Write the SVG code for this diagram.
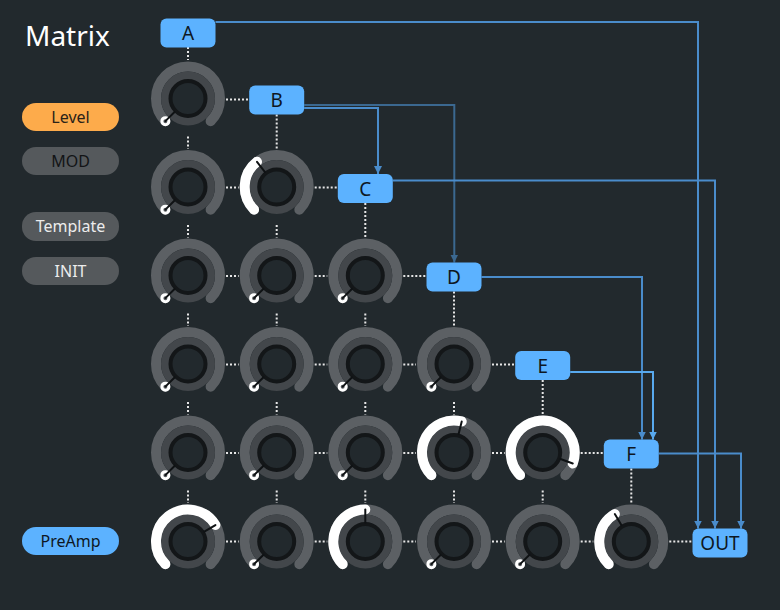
<svg xmlns="http://www.w3.org/2000/svg" xmlns:xlink="http://www.w3.org/1999/xlink" width="780" height="610" viewBox="0 0 780 610">
<style>
.bg{fill:#22292d}
.title{font-family:"Noto Sans","Open Sans","Liberation Sans",sans-serif;font-size:28px;fill:#ffffff}
.side{font-family:"Noto Sans","Open Sans","Liberation Sans",sans-serif;font-size:16px;text-anchor:middle}
.btn{fill:#5cb2ff}
.btxt{font-family:"Noto Sans","Open Sans","Liberation Sans",sans-serif;font-size:19px;text-anchor:middle;fill:#0e1722}
.dot{stroke:#e6e6e6;stroke-width:2;stroke-dasharray:2 2;fill:none}
.wire{fill:none;stroke-width:2}
.w1{stroke:#4a8ccb}
.w2{stroke:#3b6890}
.w3{stroke:#58a9ee}
.track{fill:none;stroke:#5c6064;stroke-width:10;stroke-linecap:round}
.val{fill:none;stroke:#ffffff;stroke-width:10;stroke-linecap:round}
.pdot{fill:none;stroke:#ffffff;stroke-width:3}
.ptr{stroke:#0f1214;stroke-width:2;stroke-linecap:round}
</style>
<defs>
<marker id="ah1" markerUnits="userSpaceOnUse" markerWidth="8" markerHeight="8" viewBox="0 0 8 8" refX="8" refY="4" orient="auto"><path d="M0,0 L8,4 L0,8 z" fill="#4a8ccb"/></marker>
<marker id="ah2" markerUnits="userSpaceOnUse" markerWidth="8" markerHeight="8" viewBox="0 0 8 8" refX="8" refY="4" orient="auto"><path d="M0,0 L8,4 L0,8 z" fill="#3b6890"/></marker>
<marker id="ah3" markerUnits="userSpaceOnUse" markerWidth="8" markerHeight="8" viewBox="0 0 8 8" refX="8" refY="4" orient="auto"><path d="M0,0 L8,4 L0,8 z" fill="#58a9ee"/></marker>
<g id="kb">
<path class="track" d="M-22.63,22.63 A32,32 0 1 1 22.63,22.63"/>
<circle r="27" fill="#43474b"/>
<circle r="17.5" fill="#22292d" stroke="#131618" stroke-width="4"/>
</g>
<g id="kz">
<use href="#kb"/>
<circle class="pdot" cx="-22.63" cy="22.63" r="3.5"/>
<line class="ptr" x1="-22.63" y1="22.63" x2="-13.43" y2="13.43"/>
</g>
</defs>
<rect class="bg" width="780" height="610"/>
<text class="title" x="25" y="46">Matrix</text>

<g id="side-level"><rect x="22" y="103" width="97" height="28" rx="14" fill="#fdab4b"/><text class="side" x="70.5" y="122.5" fill="#2a2218">Level</text></g>
<g id="side-mod"><rect x="22" y="147" width="97" height="28" rx="14" fill="#55595c"/><text class="side" x="70.5" y="166.5" fill="#121416">MOD</text></g>
<g id="side-template"><rect x="22" y="212" width="97" height="29" rx="14" fill="#55595c"/><text class="side" x="70.5" y="232" fill="#ececec">Template</text></g>
<g id="side-init"><rect x="22" y="257" width="97" height="28" rx="14" fill="#55595c"/><text class="side" x="70.5" y="276.5" fill="#ececec">INIT</text></g>
<g id="side-preamp"><rect x="22" y="527" width="97" height="28" rx="14" fill="#5cb2ff"/><text class="side" x="70.5" y="546.5" fill="#0e1722">PreAmp</text></g>

<g id="connectors">
<g id="dotted">
<path class="dot" d="M188,47 V60 M188,136.5 V149 M188,225 V237.5 M188,313.5 V326 M188,402 V414.5 M188,490.5 V503"/>
<path class="dot" d="M276.7,114.5 V149 M276.7,225 V237.5 M276.7,313.5 V326 M276.7,402 V414.5 M276.7,490.5 V503"/>
<path class="dot" d="M365.3,203 V237.5 M365.3,313.5 V326 M365.3,402 V414.5 M365.3,490.5 V503"/>
<path class="dot" d="M454,291.5 V326 M454,402 V414.5 M454,490.5 V503"/>
<path class="dot" d="M542.7,380 V414.5 M542.7,490.5 V503"/>
<path class="dot" d="M631.3,468.5 V503"/>
<path class="dot" d="M226,99.5 H249"/>
<path class="dot" d="M226,187.5 H238.7 M314.7,187.5 H337.8"/>
<path class="dot" d="M226,276 H238.7 M314.7,276 H327.3 M403.3,276 H426.5"/>
<path class="dot" d="M226,364.5 H238.7 M314.7,364.5 H327.3 M403.3,364.5 H416 M492,364.5 H515.2"/>
<path class="dot" d="M226,453 H238.7 M314.7,453 H327.3 M403.3,453 H416 M492,453 H504.7 M580.7,453 H603.8"/>
<path class="dot" d="M226,541.5 H238.7 M314.7,541.5 H327.3 M403.3,541.5 H416 M492,541.5 H504.7 M580.7,541.5 H593.3 M669.3,541.5 H692.5"/>
</g>
<g id="wires">
<path class="wire w1" d="M215.5,22 H698 V528.5" marker-end="url(#ah1)"/>
<path class="wire w1" d="M304.2,108 H378 V174" marker-end="url(#ah1)"/>
<path class="wire w2" d="M304.2,105 H454.3 V262.5" marker-end="url(#ah2)"/>
<path class="wire w1" d="M392.8,180.5 H715 V528.5" marker-end="url(#ah1)"/>
<path class="wire w1" d="M481.5,277 H642 V439.5" marker-end="url(#ah1)"/>
<path class="wire w3" d="M570.2,372 H653 V439.5" marker-end="url(#ah3)"/>
<path class="wire w1" d="M658.8,453.5 H741 V528.5" marker-end="url(#ah1)"/>
</g>
</g>

<g id="node-A"><rect class="btn" x="160.5" y="18.5" width="55" height="29" rx="6"/><text class="btxt" x="188" y="39.5">A</text></g>
<g id="node-B"><rect class="btn" x="249.2" y="85.5" width="55" height="29" rx="6"/><text class="btxt" x="276.7" y="107">B</text></g>
<g id="node-C"><rect class="btn" x="337.8" y="174" width="55" height="29" rx="6"/><text class="btxt" x="365.3" y="195.5">C</text></g>
<g id="node-D"><rect class="btn" x="426.5" y="262.5" width="55" height="29" rx="6"/><text class="btxt" x="454" y="284">D</text></g>
<g id="node-E"><rect class="btn" x="515.2" y="351" width="55" height="29" rx="6"/><text class="btxt" x="542.7" y="372.5">E</text></g>
<g id="node-F"><rect class="btn" x="603.8" y="439.5" width="55" height="29" rx="6"/><text class="btxt" x="631.3" y="461">F</text></g>
<g id="node-OUT"><rect class="btn" x="692.5" y="528.5" width="55" height="29" rx="6"/><text class="btxt" x="720" y="550">OUT</text></g>

<g id="knob-1-1" transform="translate(188,98.5)"><use href="#kz"/></g>

<g id="knob-2-1" transform="translate(188,187)"><use href="#kz"/></g>
<g id="knob-2-2" transform="translate(276.7,187)"><use href="#kb"/><path class="val" d="M-22.63,22.63 A32,32 0 0 1 -19.70,-25.22"/><line class="ptr" x1="-19.70" y1="-25.22" x2="-11.70" y2="-14.97"/></g>

<g id="knob-3-1" transform="translate(188,275.5)"><use href="#kz"/></g>
<g id="knob-3-2" transform="translate(276.7,275.5)"><use href="#kz"/></g>
<g id="knob-3-3" transform="translate(365.3,275.5)"><use href="#kz"/></g>

<g id="knob-4-1" transform="translate(188,364)"><use href="#kz"/></g>
<g id="knob-4-2" transform="translate(276.7,364)"><use href="#kz"/></g>
<g id="knob-4-3" transform="translate(365.3,364)"><use href="#kz"/></g>
<g id="knob-4-4" transform="translate(454,364)"><use href="#kz"/></g>

<g id="knob-5-1" transform="translate(188,452.5)"><use href="#kz"/></g>
<g id="knob-5-2" transform="translate(276.7,452.5)"><use href="#kz"/></g>
<g id="knob-5-3" transform="translate(365.3,452.5)"><use href="#kz"/></g>
<g id="knob-5-4" transform="translate(454,452.5)"><use href="#kb"/><path class="val" d="M-22.63,22.63 A32,32 0 0 1 7.74,-31.05"/><line class="ptr" x1="7.74" y1="-31.05" x2="4.60" y2="-18.44"/></g>
<g id="knob-5-5" transform="translate(542.7,452.5)"><use href="#kb"/><path class="val" d="M-22.63,22.63 A32,32 0 1 1 30.07,10.94"/><line class="ptr" x1="30.07" y1="10.94" x2="17.85" y2="6.50"/></g>

<g id="knob-6-1" transform="translate(188,541.5)"><use href="#kb"/><path class="val" d="M-22.63,22.63 A32,32 0 1 1 27.43,-16.48"/><line class="ptr" x1="27.43" y1="-16.48" x2="16.29" y2="-9.79"/></g>
<g id="knob-6-2" transform="translate(276.7,541.5)"><use href="#kz"/></g>
<g id="knob-6-3" transform="translate(365.3,541.5)"><use href="#kb"/><path class="val" d="M-22.63,22.63 A32,32 0 0 1 0,-32"/><line class="ptr" x1="0" y1="-32" x2="0" y2="-19"/></g>
<g id="knob-6-4" transform="translate(454,541.5)"><use href="#kz"/></g>
<g id="knob-6-5" transform="translate(542.7,541.5)"><use href="#kz"/></g>
<g id="knob-6-6" transform="translate(631.3,541.5)"><use href="#kb"/><path class="val" d="M-22.63,22.63 A32,32 0 0 1 -16.48,-27.43"/><line class="ptr" x1="-16.48" y1="-27.43" x2="-9.79" y2="-16.29"/></g>
</svg>
